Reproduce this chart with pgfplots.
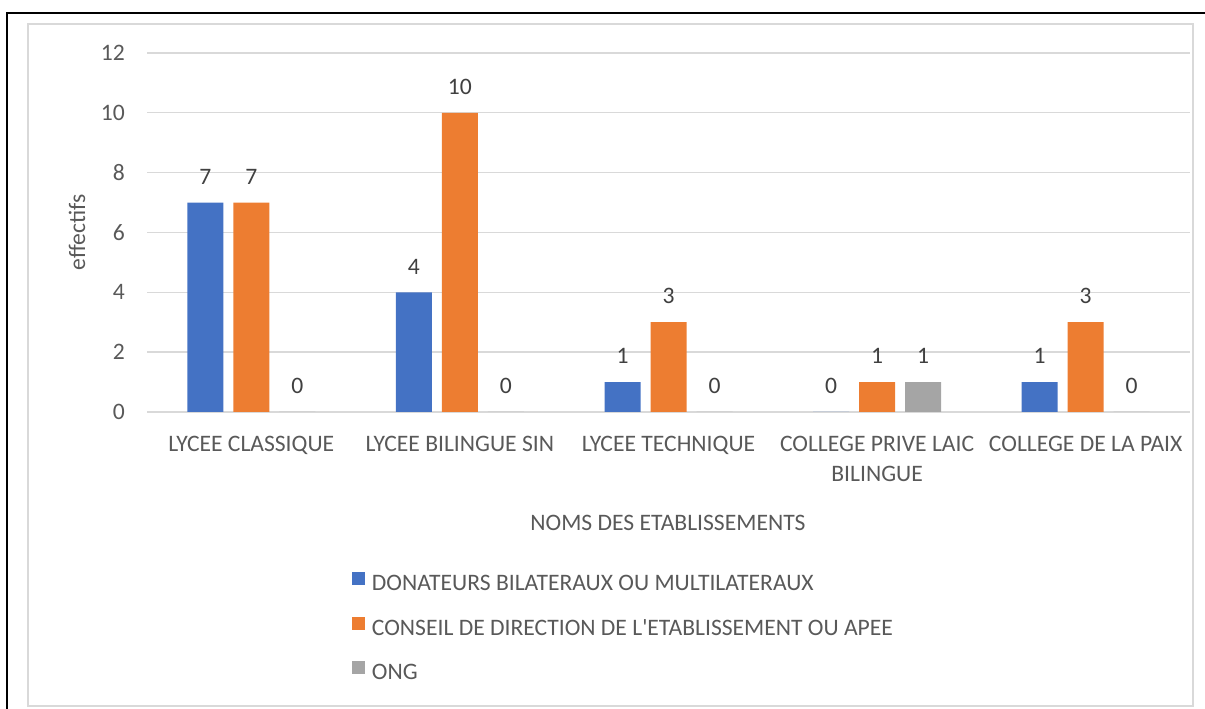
\documentclass[border=0pt]{standalone}
\usepackage{fontspec}
\setmainfont{Carlito}
\usepackage{pgfplots}
\pgfplotsset{compat=1.18}
\definecolor{cblue}{HTML}{4472C4}
\definecolor{corange}{HTML}{ED7D31}
\definecolor{cgray}{HTML}{A5A5A5}
\definecolor{gridc}{HTML}{D9D9D9}
\definecolor{textc}{HTML}{595959}
\definecolor{labc}{HTML}{404040}
\newcommand\ff{\fontsize{17.7}{22.5}\selectfont}
\begin{document}
\begin{tikzpicture}
\useasboundingbox (0,0) rectangle (903.75pt,531.75pt);
% cadres
\draw[line width=1pt] (5.25pt,0) -- (5.25pt,522pt) -- (903.75pt,522pt);
\draw[gridc, line width=1pt] (21pt,2.25pt) rectangle (894.75pt,513.75pt);
\begin{axis}[
    at={(110.25pt,222.75pt)}, anchor=south west,
    scale only axis, width=782.25pt, height=269.25pt,
    ybar=7.5pt, bar width=27pt,
    xmin=-0.5, xmax=4.5, ymin=0, ymax=12,
    xtick={0,1,2,3,4},
    xticklabels={LYCEE CLASSIQUE, LYCEE BILINGUE SIN, LYCEE TECHNIQUE,
        {COLLEGE PRIVE LAIC\\BILINGUE}, COLLEGE DE LA PAIX},
    ytick={0,2,...,12},
    axis line style={draw=none},
    major tick length=0pt,
    ymajorgrids, grid style={gridc, line width=1pt},
    /pgf/number format/assume math mode=true,
    tick label style={font=\ff, text=textc},
    yticklabel style={anchor=east, inner sep=0pt, xshift=-16.5pt},
    xticklabel style={anchor=north, inner sep=0pt, yshift=-17.6pt, align=center},
    ylabel={effectifs},
    ylabel style={at={(axis description cs:-0.0671,0.5)}, anchor=center, font=\ff, text=textc, rotate=0},
    xlabel={NOMS DES ETABLISSEMENTS},
    xlabel style={at={(axis description cs:0.4995,-0.309)}, anchor=center, font=\ff, text=textc},
    nodes near coords,
    every node near coord/.append style={font=\ff, text=labc, anchor=south, inner sep=0pt, yshift=13.5pt},
    legend style={at={(axis description cs:0.1966,-0.4456)}, anchor=north west,
        draw=none, fill=none, inner sep=0pt, row sep=18pt,
        font=\ff, text=textc, nodes={inner sep=0pt}},
    legend cell align=left,
    legend image code/.code={\fill[#1] (0pt,-1pt) rectangle (9.75pt,8.75pt);},
]
\addplot[fill=cblue, draw=none] coordinates {(0,7) (1,4) (2,1) (3,0) (4,1)};
\addplot[fill=corange, draw=none] coordinates {(0,7) (1,10) (2,3) (3,1) (4,3)};
\addplot[fill=cgray, draw=none] coordinates {(0,0) (1,0) (2,0) (3,1) (4,0)};
\legend{\hspace{5pt}DONATEURS BILATERAUX OU MULTILATERAUX,
    \hspace{5pt}CONSEIL DE DIRECTION DE L\textquotesingle ETABLISSEMENT OU APEE,
    \hspace{5pt}ONG}
\end{axis}
\end{tikzpicture}
\end{document}
